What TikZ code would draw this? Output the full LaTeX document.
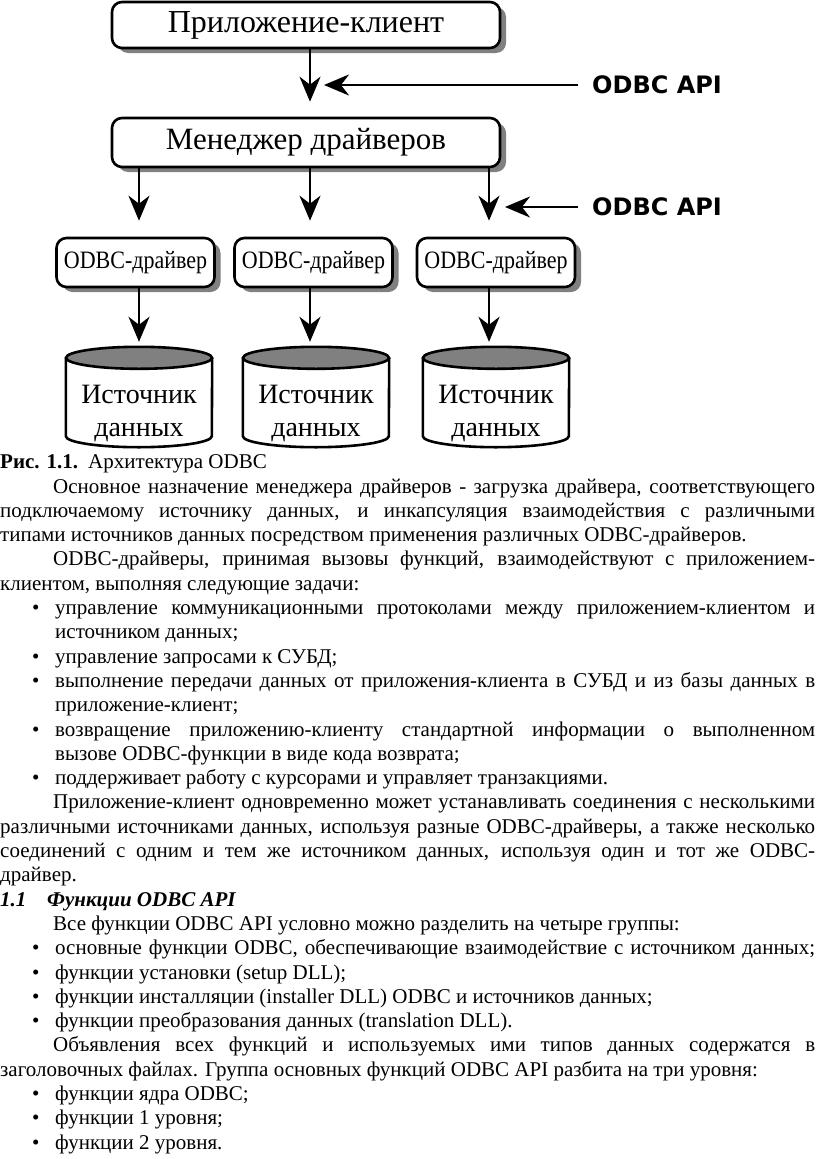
\documentclass[tikz,border=0pt]{standalone}
\usepackage{fontspec}
\setmainfont{Liberation Serif}
\newfontfamily\apifont{DejaVu Sans}
\newfontfamily\narrowserif[FakeStretch=0.88]{Liberation Serif}
\usetikzlibrary{positioning, arrows.meta, shadows}

\definecolor{shadowgrey}{gray}{0.5}
\definecolor{dbgrey}{gray}{0.5}

% text lines: justified, ragged, bullet
\newcommand{\jline}[4]{\node[txt] (#1) at (#2,#3) {\makebox[\dimexpr815pt-#2pt\relax][s]{#4}};}
\newcommand{\rline}[4]{\node[txt] (#1) at (#2,#3) {#4};}
\newcommand{\bul}[2]{\node[txt] (#1) at (32,#2) {\textbullet};}
% data source drawn round its text node
\newcommand{\dbshape}[1]{%
\draw [dbline] ([yshift=23pt]#1.north west) -- ([yshift=11pt]#1.south west) arc [start angle=180, end angle=360, x radius=73pt, y radius=11pt] -- ([yshift=23pt]#1.north east);
\filldraw [dbline, fill=dbgrey] ([yshift=23pt]#1.north) ellipse [x radius=73pt, y radius=11pt];}

\begin{document}
\begin{tikzpicture}[x=1pt, y=1pt,
  box/.style={draw=black, line width=2.6pt, rounded corners=10pt, fill=white, inner sep=0pt,
    drop shadow={shadow xshift=6pt, shadow yshift=-5pt, fill=shadowgrey, opacity=1}},
  drv/.style={box, minimum width=158pt, minimum height=49pt, font=\narrowserif\fontsize{25pt}{25pt}\selectfont},
  arr/.style={line width=2.5pt, -{Stealth[length=25pt, width=21pt, inset=8pt]}},
  dbline/.style={line width=2.6pt},
  srcnode/.style={minimum width=146pt, minimum height=66pt, inner sep=0pt, align=center,
    font=\fontsize{28pt}{33pt}\selectfont},
  api/.style={anchor=west, inner sep=0pt, font=\apifont\bfseries\fontsize{24pt}{24pt}\selectfont},
  txt/.style={anchor=base west, inner sep=0pt, font=\fontsize{21pt}{24pt}\selectfont}]
\useasboundingbox (0,0) rectangle (816,-1159);

\coordinate (cola) at (139,0);
\coordinate (colb) at (310,0);
\coordinate (colc) at (489,0);

\node [box, minimum width=388pt, minimum height=46pt, font=\fontsize{32pt}{32pt}\selectfont] (app) at (306,-25) {Приложение-клиент};
\node [box, minimum width=388pt, minimum height=49pt, font=\fontsize{31pt}{31pt}\selectfont] (mgr) at (306,-142.5) {Менеджер драйверов};
\node [drv] (drva) at (135.5,-262.5) {ODBC-драйвер};
\node [drv] (drvb) at (313.5,-262.5) {ODBC-драйвер};
\node [drv] (drvc) at (496,-262.5) {ODBC-драйвер};
\node [srcnode] (srca) at (139,-414) {Источник\\данных};
\node [srcnode] (srcb) at (316,-414) {Источник\\данных};
\node [srcnode] (srcc) at (496,-414) {Источник\\данных};
\dbshape{srca}
\dbshape{srcb}
\dbshape{srcc}
\node [api] (api1) at (592,-85) {ODBC API};
\node [api] (api2) at (592,-207) {ODBC API};

\draw [arr, shorten >=15pt] (app.south -| colb) -- (mgr.north -| colb);
\draw [arr, shorten <=14pt, shorten >=14pt] (api1.west) -- (api1.west -| colb);
\draw [arr, shorten >=16pt] (mgr.south -| cola) -- (drva.north -| cola);
\draw [arr, shorten >=16pt] (mgr.south -| colb) -- (drvb.north -| colb);
\draw [arr, shorten >=16pt] (mgr.south -| colc) -- (drvc.north -| colc);
\draw [arr, shorten <=14pt, shorten >=16pt] (api2.west) -- (api2.west -| colc);
\draw [arr, shorten >=39pt] (drva.south -| cola) -- (srca.north -| cola);
\draw [arr, shorten >=39pt] (drvb.south -| colb) -- (srcb.north -| colb);
\draw [arr, shorten >=39pt] (drvc.south -| colc) -- (srcc.north -| colc);

\rline{cap}{0}{-468}{\makebox[88pt][l]{\textbf{Рис. 1.1.}}Архитектура ODBC}
\jline{p1a}{53}{-493}{Основное назначение менеджера драйверов - загрузка драйвера, соответствующего}
\jline{p1b}{0}{-517.3}{подключаемому источнику данных, и инкапсуляция взаимодействия с различными}
\rline{p1c}{0}{-541.6}{типами источников данных посредством применения различных ODBC-драйверов.}
\jline{p2a}{53}{-565.9}{ODBC-драйверы, принимая вызовы функций, взаимодействуют с приложением-}
\rline{p2b}{0}{-590.2}{клиентом, выполняя следующие задачи:}
\bul{b1}{-614.5}
\jline{i1a}{55}{-614.5}{управление коммуникационными протоколами между приложением-клиентом и}
\rline{i1b}{55}{-638.8}{источником данных;}
\bul{b2}{-663.1}
\rline{i2}{55}{-663.1}{управление запросами к СУБД;}
\bul{b3}{-687.4}
\jline{i3a}{55}{-687.4}{выполнение передачи данных от приложения-клиента в СУБД и из базы данных в}
\rline{i3b}{55}{-711.7}{приложение-клиент;}
\bul{b4}{-736}
\jline{i4a}{55}{-736}{возвращение приложению-клиенту стандартной информации о выполненном}
\rline{i4b}{55}{-760.3}{вызове ODBC-функции в виде кода возврата;}
\bul{b5}{-784.6}
\rline{i5}{55}{-784.6}{поддерживает работу с курсорами и управляет транзакциями.}
\jline{p3a}{53}{-808.9}{Приложение-клиент одновременно может устанавливать соединения с несколькими}
\jline{p3b}{0}{-833.2}{различными источниками данных, используя разные ODBC-драйверы, а также несколько}
\jline{p3c}{0}{-857.5}{соединений с одним и тем же источником данных, используя один и тот же ODBC-}
\rline{p3d}{0}{-881.8}{драйвер.}
\rline{sec}{0}{-906.1}{\textbf{\textit{\makebox[47pt][l]{1.1}Функции ODBC API}}}
\rline{p4}{53}{-930.4}{Все функции ODBC API условно можно разделить на четыре группы:}
\bul{b6}{-954.7}
\jline{g1}{55}{-954.7}{основные функции ODBC, обеспечивающие взаимодействие с источником данных;}
\bul{b7}{-979}
\rline{g2}{55}{-979}{функции установки (setup DLL);}
\bul{b8}{-1003.3}
\rline{g3}{55}{-1003.3}{функции инсталляции (installer DLL) ODBC и источников данных;}
\bul{b9}{-1027.6}
\rline{g4}{55}{-1027.6}{функции преобразования данных (translation DLL).}
\jline{p5a}{53}{-1051.9}{Объявления всех функций и используемых ими типов данных содержатся в}
\rline{p5b}{0}{-1076.2}{заголовочных файлах. Группа основных функций ODBC API разбита на три уровня:}
\bul{b10}{-1100.5}
\rline{l1}{55}{-1100.5}{функции ядра ODBC;}
\bul{b11}{-1124.8}
\rline{l2}{55}{-1124.8}{функции 1 уровня;}
\bul{b12}{-1149.1}
\rline{l3}{55}{-1149.1}{функции 2 уровня.}
\end{tikzpicture}
\end{document}
